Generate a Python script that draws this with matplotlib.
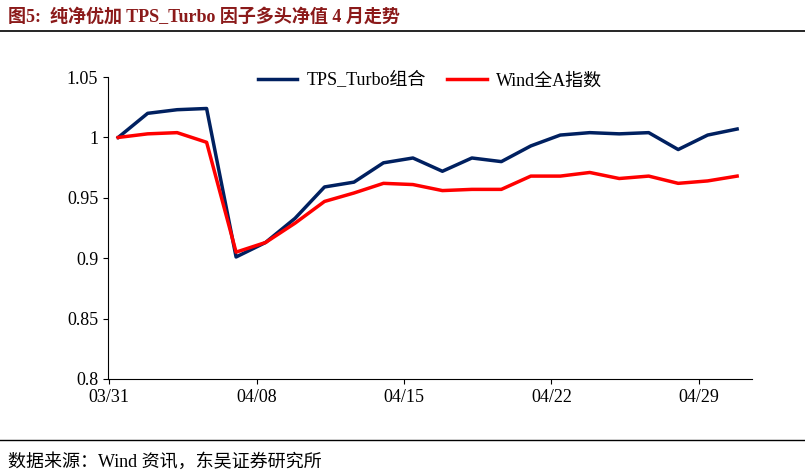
import matplotlib
matplotlib.use("Agg")
import matplotlib.pyplot as plt
from matplotlib.lines import Line2D

dates = ["03/31","04/01","04/02","04/03","04/07","04/08","04/09","04/10","04/11","04/14","04/15",
         "04/16","04/17","04/18","04/21","04/22","04/23","04/24","04/25","04/28","04/29","04/30"]
tps = [1.000,1.020,1.023,1.024,0.901,0.913,0.933,0.959,0.963,0.979,0.983,
       0.972,0.983,0.980,0.993,1.002,1.004,1.003,1.004,0.990,1.002,1.007]
wind = [1.000,1.003,1.004,0.996,0.905,0.913,0.929,0.947,0.954,0.962,0.961,
        0.956,0.957,0.957,0.968,0.968,0.971,0.966,0.968,0.962,0.964,0.968]
tick_idx = [0,5,10,15,20]

plt.rcParams["font.family"] = ["Liberation Serif","Noto Sans CJK SC"]
fig = plt.figure(figsize=(8.05,4.76), dpi=100)
ax = fig.add_axes([0.134,0.204,0.80,0.634])
x = list(range(len(dates)))
ax.plot(x, tps, color="#002060", lw=2.5, label="TPS_Turbo组合")
ax.plot(x, wind, color="#FF0000", lw=2.5, label="Wind全A指数")
ax.set_ylim(0.8,1.05)
ax.set_yticks([0.8,0.85,0.9,0.95,1.0,1.05])
ax.set_yticklabels(["0.8","0.85","0.9","0.95","1","1.05"])
ax.set_xlim(-0.35,len(dates)-0.5)
ax.set_xticks([i-0.3 for i in tick_idx])
ax.set_xticklabels([dates[i] for i in tick_idx])
for s in ["top","right"]:
    ax.spines[s].set_visible(False)
ax.tick_params(labelsize=13, direction="out")
ax.legend(loc="upper center", ncol=2, frameon=False, fontsize=13, bbox_to_anchor=(0.5,1.07),
          handlelength=2.2, columnspacing=1.2, handletextpad=0.5)

fig.text(0.01,0.955,"图5:  纯净优加 TPS_Turbo 因子多头净值 4 月走势", fontsize=13, fontweight="bold", color="#8B1A1A")
fig.add_artist(Line2D([0.0,1.0],[0.935,0.935], color="black", lw=1.2))
fig.add_artist(Line2D([0.0,1.0],[0.075,0.075], color="black", lw=1))
fig.text(0.01,0.02,"数据来源：Wind 资讯，东吴证券研究所", fontsize=13)
fig.savefig("out.png", dpi=100)
